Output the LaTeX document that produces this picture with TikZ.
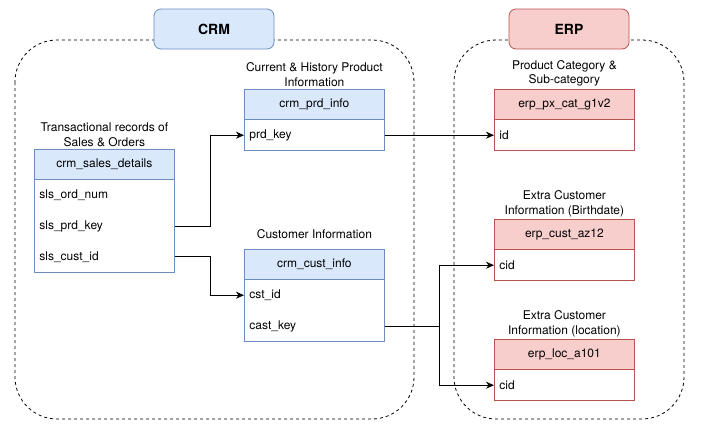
\documentclass[tikz,border=0pt]{standalone}
\usepackage{fontspec}
\setmainfont{TeX Gyre Heros}
\usetikzlibrary{positioning,arrows.meta}
\definecolor{crmfill}{HTML}{DAE8FC}
\definecolor{crmline}{HTML}{6C8EBF}
\definecolor{erpfill}{HTML}{F8CECC}
\definecolor{erpline}{HTML}{B85450}

\begin{document}
\begin{tikzpicture}[x=1pt,y=-1pt,
  font=\fontsize{12}{14.5}\selectfont,
  line width=0.8pt,
  group/.style={draw, dash pattern=on 3pt off 3pt, rounded corners=42pt},
  title/.style={rounded corners=7pt, minimum width=120pt, minimum height=40pt, font=\fontsize{14}{16}\selectfont\bfseries},
  head/.style={minimum width=140pt, minimum height=30pt, inner sep=0pt, anchor=north west},
  field/.style={text width=130pt, align=left, inner xsep=5pt, inner ysep=0pt, minimum height=30pt},
  caption/.style={align=center, inner sep=1pt},
  link/.style={-{Stealth[length=8pt,width=7pt,inset=2.5pt]}, line width=1pt}]
\useasboundingbox (0,0) rectangle (703,434);

\coordinate (S) at (34,149);
\coordinate (P) at (244,89);
\coordinate (C) at (244,249);
\coordinate (G) at (494,89);
\coordinate (A) at (494,219);
\coordinate (L) at (494,339);

\draw[group] (15,40) rectangle (414,419);
\draw[group] (454,40) rectangle (684,419);
\node[title, draw=crmline, fill=crmfill] (crmT) at (214,29) {CRM};
\node[title, draw=erpline, fill=erpfill] (erpT) at (569,29) {ERP};

\node[head, draw=crmline, fill=crmfill] (salesH) at (S) {crm\_sales\_details};
\node[field, below=0pt of salesH] (salesOrd) {sls\_ord\_num};
\node[field, below=0pt of salesOrd] (salesPrd) {sls\_prd\_key};
\node[field, below=0pt of salesPrd] (salesCust) {sls\_cust\_id};
\draw[crmline] (salesOrd.north west) rectangle (salesCust.south east);
\node[caption, above=1pt of salesH] (salesCap) {Transactional records of\\Sales \& Orders};

\node[head, draw=crmline, fill=crmfill] (prdH) at (P) {crm\_prd\_info};
\node[field, below=0pt of prdH] (prdKey) {prd\_key};
\draw[crmline] (prdKey.north west) rectangle (prdKey.south east);
\node[caption, above=1pt of prdH] (prdCap) {Current \& History Product\\Information};

\node[head, draw=crmline, fill=crmfill] (custH) at (C) {crm\_cust\_info};
\node[field, below=0pt of custH] (custId) {cst\_id};
\node[field, below=0pt of custId] (custKey) {cast\_key};
\draw[crmline] (custId.north west) rectangle (custKey.south east);
\node[caption, above=9pt of custH] (custCap) {Customer Information};

\node[head, draw=erpline, fill=erpfill] (catH) at (G) {erp\_px\_cat\_g1v2};
\node[field, below=0pt of catH] (catId) {id};
\draw[erpline] (catId.north west) rectangle (catId.south east);
\node[caption, above=1pt of catH] (catCap) {Product Category \&\\Sub-category};

\node[head, draw=erpline, fill=erpfill] (azH) at (A) {erp\_cust\_az12};
\node[field, below=0pt of azH] (azCid) {cid};
\draw[erpline] (azCid.north west) rectangle (azCid.south east);
\node[caption, above=1pt of azH] (azCap) {Extra Customer\\Information (Birthdate)};

\node[head, draw=erpline, fill=erpfill] (locH) at (L) {erp\_loc\_a101};
\node[field, below=0pt of locH] (locCid) {cid};
\draw[erpline] (locCid.north west) rectangle (locCid.south east);
\node[caption, above=1pt of locH] (locCap) {Extra Customer\\Information (location)};

\draw[link] (salesPrd.east) -- ++(36,0) |- (prdKey.west);
\draw[link] (salesCust.east) -- ++(36,0) |- (custId.west);
\draw[link] (prdKey.east) -- (catId.west);
\draw[link] (custKey.east) -- ++(55,0) coordinate (split) |- (azCid.west);
\draw[link] (split) |- (locCid.west);
\end{tikzpicture}
\end{document}
